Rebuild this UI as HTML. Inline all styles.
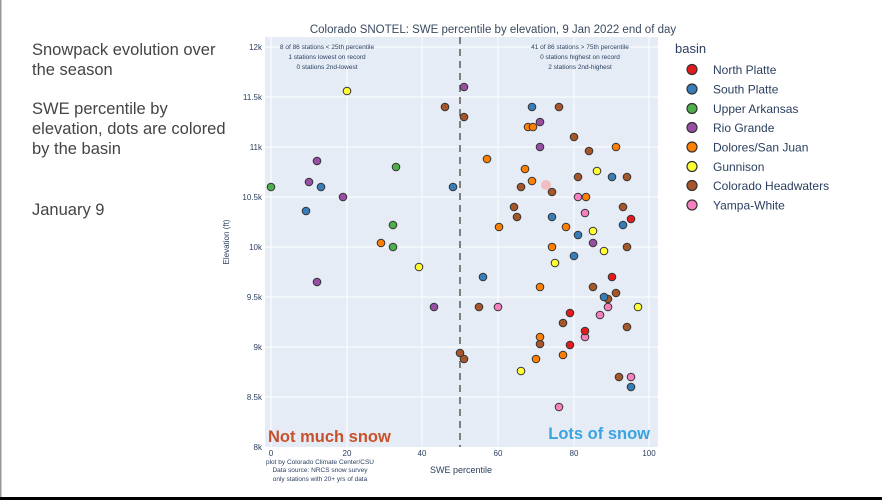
<!DOCTYPE html>
<html><head><meta charset="utf-8"><style>
html,body{margin:0;padding:0;background:#fff;}
svg{display:block;font-family:"Liberation Sans",sans-serif;}
</style></head><body>
<svg width="882" height="500" viewBox="0 0 882 500" xmlns="http://www.w3.org/2000/svg">
<rect width="882" height="500" fill="#fff"/>
<rect x="0" y="0" width="1.5" height="497" fill="#999"/>
<rect x="0" y="497" width="882" height="3" fill="#000"/>
<g fill="#444" font-size="16.5">
<text x="32" y="55">Snowpack evolution over</text>
<text x="32" y="75">the season</text>
<text x="32" y="114">SWE percentile by</text>
<text x="32" y="134">elevation, dots are colored</text>
<text x="32" y="154">by the basin</text>
<text x="32" y="215">January 9</text>
</g>
<text x="493" y="33" font-size="11.5" fill="#3a4a60" text-anchor="middle">Colorado SNOTEL: SWE percentile by elevation, 9 Jan 2022 end of day</text>
<rect x="265" y="37" width="393" height="410" fill="#e5ecf6"/>
<g stroke="#fff" stroke-width="1">
<line x1="271" y1="37" x2="271" y2="447"/><line x1="347" y1="37" x2="347" y2="447"/><line x1="422" y1="37" x2="422" y2="447"/><line x1="498" y1="37" x2="498" y2="447"/><line x1="574" y1="37" x2="574" y2="447"/><line x1="649" y1="37" x2="649" y2="447"/>
<line x1="265" y1="47" x2="658" y2="47"/><line x1="265" y1="97" x2="658" y2="97"/><line x1="265" y1="147" x2="658" y2="147"/><line x1="265" y1="197" x2="658" y2="197"/><line x1="265" y1="247" x2="658" y2="247"/><line x1="265" y1="297" x2="658" y2="297"/><line x1="265" y1="347" x2="658" y2="347"/><line x1="265" y1="397" x2="658" y2="397"/>
</g>
<line x1="460" y1="37" x2="460" y2="447" stroke="#7f7f7f" stroke-width="2" stroke-dasharray="7,5"/>
<g font-size="8" fill="#2a3f5f" text-anchor="end">
<text x="262" y="50">12k</text><text x="262" y="100">11.5k</text><text x="262" y="150">11k</text><text x="262" y="200">10.5k</text><text x="262" y="250">10k</text><text x="262" y="300">9.5k</text><text x="262" y="350">9k</text><text x="262" y="400">8.5k</text><text x="262" y="450">8k</text>
</g>
<g font-size="8" fill="#2a3f5f" text-anchor="middle">
<text x="271" y="456">0</text><text x="347" y="456">20</text><text x="422" y="456">40</text><text x="498" y="456">60</text><text x="574" y="456">80</text><text x="649" y="456">100</text>
</g>
<text x="461" y="473" font-size="9" fill="#2a3f5f" text-anchor="middle">SWE percentile</text>
<text transform="translate(229,242) rotate(-90)" font-size="8" fill="#2a3f5f" text-anchor="middle">Elevation (ft)</text>
<g font-size="6.5" fill="#2a3f5f" text-anchor="middle">
<text x="320" y="464">plot by Colorado Climate Center/CSU</text>
<text x="320" y="472">Data source: NRCS snow survey</text>
<text x="320" y="481">only stations with 20+ yrs of data</text>
<text x="327" y="49">8 of 86 stations &lt; 25th percentile</text>
<text x="327" y="59">1 stations lowest on record</text>
<text x="327" y="69">0 stations 2nd-lowest</text>
<text x="580" y="49">41 of 86 stations &gt; 75th percentile</text>
<text x="580" y="59">0 stations highest on record</text>
<text x="580" y="69">2 stations 2nd-highest</text>
</g>
<text x="268" y="442" font-size="16.5" font-weight="bold" fill="#c8502a">Not much snow</text>
<text x="650" y="439" font-size="16.5" font-weight="bold" fill="#3aa3e0" text-anchor="end">Lots of snow</text>
<circle cx="546" cy="185" r="5" fill="#f7a0a0" opacity="0.6"/>
<g stroke="#333" stroke-width="1">
<g fill="#ffff33"><circle cx="347" cy="91" r="3.8"/><circle cx="419" cy="267" r="3.8"/><circle cx="597" cy="171" r="3.8"/><circle cx="593" cy="231" r="3.8"/><circle cx="604" cy="251" r="3.8"/><circle cx="555" cy="263" r="3.8"/><circle cx="638" cy="307" r="3.8"/><circle cx="521" cy="371" r="3.8"/></g>
<g fill="#a65628"><circle cx="445" cy="107" r="3.8"/><circle cx="464" cy="117" r="3.8"/><circle cx="559" cy="107" r="3.8"/><circle cx="574" cy="137" r="3.8"/><circle cx="589" cy="151" r="3.8"/><circle cx="578" cy="177" r="3.8"/><circle cx="627" cy="177" r="3.8"/><circle cx="521" cy="187" r="3.8"/><circle cx="552" cy="192" r="3.8"/><circle cx="514" cy="207" r="3.8"/><circle cx="623" cy="207" r="3.8"/><circle cx="517" cy="217" r="3.8"/><circle cx="627" cy="247" r="3.8"/><circle cx="593" cy="287" r="3.8"/><circle cx="616" cy="293" r="3.8"/><circle cx="608" cy="299" r="3.8"/><circle cx="479" cy="307" r="3.8"/><circle cx="563" cy="323" r="3.8"/><circle cx="627" cy="327" r="3.8"/><circle cx="540" cy="344" r="3.8"/><circle cx="460" cy="353" r="3.8"/><circle cx="464" cy="359" r="3.8"/><circle cx="619" cy="377" r="3.8"/></g>
<g fill="#984ea3"><circle cx="464" cy="87" r="3.8"/><circle cx="317" cy="161" r="3.8"/><circle cx="309" cy="182" r="3.8"/><circle cx="343" cy="197" r="3.8"/><circle cx="540" cy="122" r="3.8"/><circle cx="540" cy="147" r="3.8"/><circle cx="593" cy="243" r="3.8"/><circle cx="317" cy="282" r="3.8"/><circle cx="434" cy="307" r="3.8"/></g>
<g fill="#4daf4a"><circle cx="396" cy="167" r="3.8"/><circle cx="271" cy="187" r="3.8"/><circle cx="393" cy="225" r="3.8"/><circle cx="393" cy="247" r="3.8"/></g>
<g fill="#377eb8"><circle cx="321" cy="187" r="3.8"/><circle cx="453" cy="187" r="3.8"/><circle cx="306" cy="211" r="3.8"/><circle cx="532" cy="107" r="3.8"/><circle cx="612" cy="177" r="3.8"/><circle cx="552" cy="217" r="3.8"/><circle cx="623" cy="225" r="3.8"/><circle cx="578" cy="235" r="3.8"/><circle cx="574" cy="256" r="3.8"/><circle cx="483" cy="277" r="3.8"/><circle cx="604" cy="297" r="3.8"/><circle cx="631" cy="387" r="3.8"/></g>
<g fill="#ff7f00"><circle cx="381" cy="243" r="3.8"/><circle cx="528" cy="127" r="3.8"/><circle cx="533" cy="127" r="3.8"/><circle cx="616" cy="147" r="3.8"/><circle cx="487" cy="159" r="3.8"/><circle cx="525" cy="169" r="3.8"/><circle cx="532" cy="181" r="3.8"/><circle cx="586" cy="197" r="3.8"/><circle cx="499" cy="227" r="3.8"/><circle cx="566" cy="227" r="3.8"/><circle cx="552" cy="247" r="3.8"/><circle cx="540" cy="287" r="3.8"/><circle cx="540" cy="337" r="3.8"/><circle cx="536" cy="359" r="3.8"/><circle cx="563" cy="355" r="3.8"/></g>
<g fill="#f781bf"><circle cx="578" cy="197" r="3.8"/><circle cx="585" cy="213" r="3.8"/><circle cx="498" cy="307" r="3.8"/><circle cx="608" cy="307" r="3.8"/><circle cx="600" cy="315" r="3.8"/><circle cx="585" cy="337" r="3.8"/><circle cx="631" cy="377" r="3.8"/><circle cx="559" cy="407" r="3.8"/></g>
<g fill="#e41a1c"><circle cx="631" cy="219" r="3.8"/><circle cx="612" cy="277" r="3.8"/><circle cx="570" cy="313" r="3.8"/><circle cx="585" cy="331" r="3.8"/><circle cx="570" cy="345" r="3.8"/></g>
</g>
<text x="675" y="53" font-size="13" fill="#2a3f5f">basin</text>
<g font-size="12" fill="#2a3f5f">
<text x="713" y="74">North Platte</text>
<text x="713" y="93.5">South Platte</text>
<text x="713" y="113">Upper Arkansas</text>
<text x="713" y="132">Rio Grande</text>
<text x="713" y="151.5">Dolores/San Juan</text>
<text x="713" y="171">Gunnison</text>
<text x="713" y="190">Colorado Headwaters</text>
<text x="713" y="209.5">Yampa-White</text>
</g>
<g stroke="#333" stroke-width="1.2">
<circle cx="692" cy="69.5" r="5" fill="#e41a1c"/>
<circle cx="692" cy="89" r="5" fill="#377eb8"/>
<circle cx="692" cy="108.5" r="5" fill="#4daf4a"/>
<circle cx="692" cy="127.5" r="5" fill="#984ea3"/>
<circle cx="692" cy="147" r="5" fill="#ff7f00"/>
<circle cx="692" cy="166.5" r="5" fill="#ffff33"/>
<circle cx="692" cy="185.5" r="5" fill="#a65628"/>
<circle cx="692" cy="205" r="5" fill="#f781bf"/>
</g>
</svg>
</body></html>
